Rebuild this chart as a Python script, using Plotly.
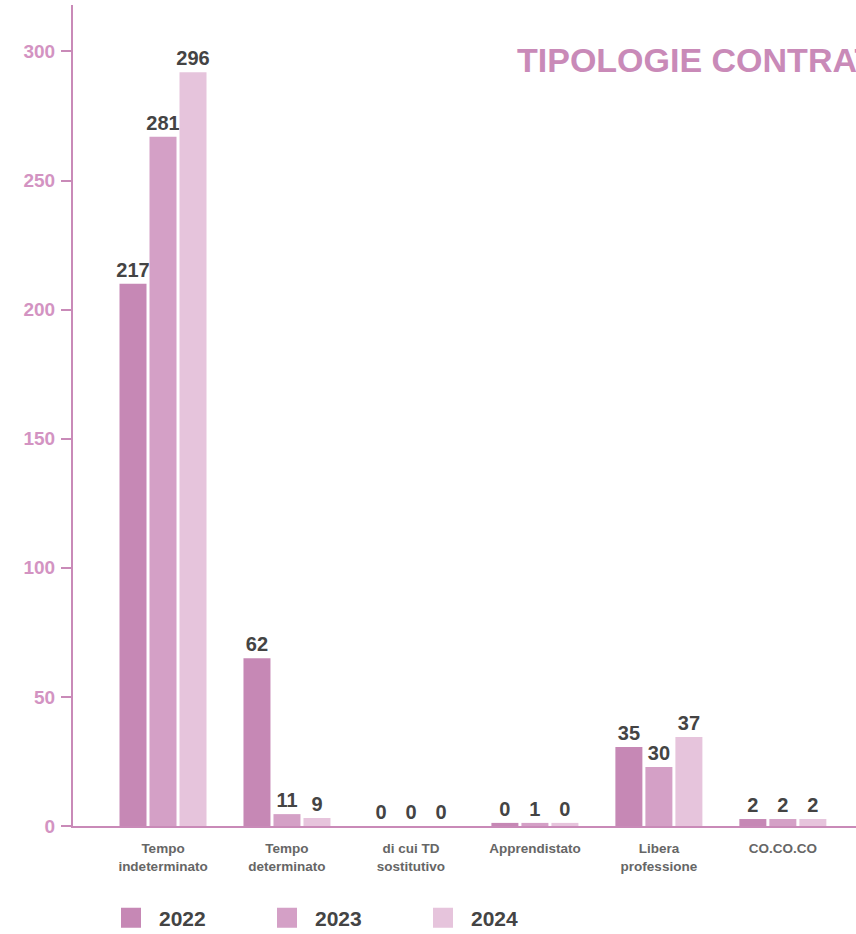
import plotly.graph_objects as go

categories = ["Tempo<br>indeterminato", "Tempo<br>determinato", "di cui TD<br>sostitutivo",
              "Apprendistato", "Libera<br>professione", "CO.CO.CO"]
years = ["2022", "2023", "2024"]
# values shown in the labels
labels_2022 = [217, 62, 0, 0, 35, 2]
labels_2023 = [281, 11, 0, 1, 30, 2]
labels_2024 = [296, 9, 0, 0, 37, 2]
# bar heights as drawn on the axis
bars_2022 = [210, 65, 0, 1.2, 30.6, 2.7]
bars_2023 = [267, 4.6, 0, 1.2, 22.9, 2.7]
bars_2024 = [292, 3.1, 0, 1.2, 34.5, 2.7]
colors = ["#c688b5", "#d4a0c6", "#e6c4dc"]

fig = go.Figure()
for yr, bars, labs, col in zip(years, [bars_2022, bars_2023, bars_2024],
                               [labels_2022, labels_2023, labels_2024], colors):
    fig.add_trace(go.Bar(
        x=categories, y=bars, name=yr, marker=dict(color=col, line=dict(width=0)),
        text=[str(v) for v in labs], textposition="outside", cliponaxis=False,
        constraintext="none",
        textfont=dict(family="Liberation Sans", size=20, color="#444444", weight="bold"),
        showlegend=False,
    ))
    fig.add_trace(go.Scatter(
        x=[None], y=[None], mode="markers", name=yr,
        marker=dict(symbol="square", size=16, color=col, line=dict(width=4, color=col)),
        showlegend=True,
    ))

fig.add_annotation(
    text="<b>TIPOLOGIE CONTRATTUALI</b>", xref="paper", yref="paper",
    x=(515 - 73) / 783, y=(826 - 60) / 821, xanchor="left", yanchor="middle",
    showarrow=False, font=dict(family="Liberation Sans", size=34, color="#c98ab8"),
)

fig.update_layout(
    width=856, height=934,
    margin=dict(l=73, r=0, t=5, b=108, autoexpand=False),
    paper_bgcolor="white", plot_bgcolor="white",
    barmode="group", bargap=0.274, bargroupgap=0.1,
    font=dict(family="Liberation Sans"),
    xaxis=dict(
        range=[-0.726, 5.59], showgrid=False, zeroline=False,
        showline=True, linecolor="#c98ab8", linewidth=2,
        ticks="", tickfont=dict(family="Liberation Sans", size=13.5, color="#666666", weight="bold"),
        ticklabelstandoff=9,
        fixedrange=True,
    ),
    yaxis=dict(
        range=[0, 318], tickvals=[0, 50, 100, 150, 200, 250, 300],
        showgrid=False, zeroline=False, showline=True, linecolor="#c98ab8", linewidth=2,
        ticks="outside", ticklen=10, tickwidth=2, tickcolor="#c98ab8",
        tickfont=dict(family="Liberation Sans", size=19, color="#d393c2", weight="bold"),
        ticklabelstandoff=2,
    ),
    legend=dict(
        orientation="h", x=(103 - 73) / 783, y=-(918 - 826) / 821, xanchor="left", yanchor="middle",
        entrywidth=95, entrywidthmode="pixels", itemwidth=46,
        font=dict(family="Liberation Sans", size=21, color="#444444", weight="bold"),
        itemsizing="trace",
    ),
)

fig.write_html("out.html", config={"displayModeBar": False},
               post_script="document.body.style.margin='0';")
